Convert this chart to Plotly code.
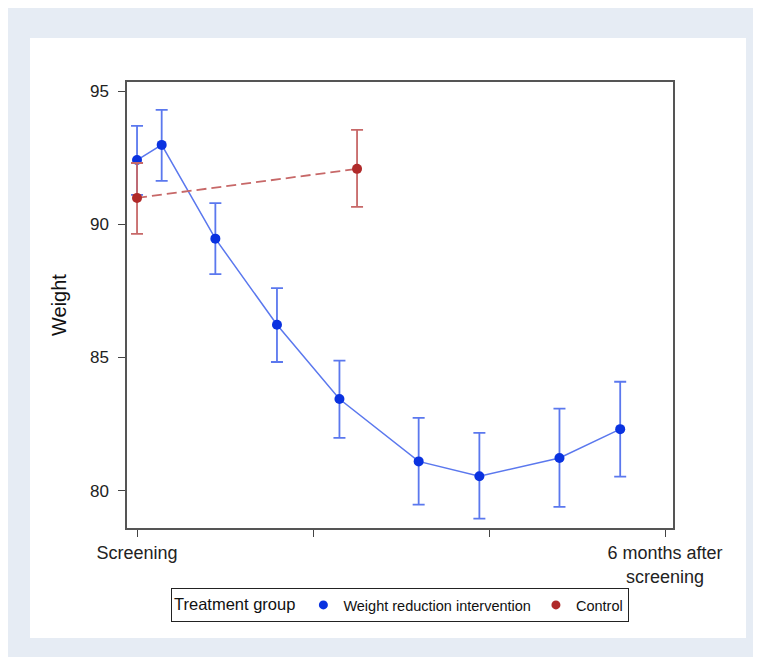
import plotly.graph_objects as go

# ---- data ----
int_x = [0.0, 0.28, 0.89, 1.59, 2.30, 3.20, 3.89, 4.80, 5.49]
int_mean = [92.41, 92.98, 89.46, 86.23, 83.44, 81.10, 80.54, 81.23, 82.31]
int_upper = [93.69, 94.29, 90.79, 87.60, 84.88, 82.73, 82.17, 83.08, 84.09]
int_lower = [91.10, 91.63, 88.13, 84.83, 81.98, 79.48, 78.95, 79.39, 80.53]

ctl_x = [0.0, 2.50]
ctl_mean = [90.99, 92.08]
ctl_upper = [92.30, 93.54]
ctl_lower = [89.64, 90.65]

x_tickvals = [0, 2, 4, 6]
x_ticktext = ["Screening", "", "", "6 months after<br>screening"]
y_tickvals = [80, 85, 90, 95]

series_names = ["Weight reduction intervention", "Control"]

BLUE_M = "#0a32e0"
BLUE_L = "#5b78ee"
RED_M = "#b02a2a"
RED_L = "#c76868"

fig = go.Figure()

fig.add_trace(go.Scatter(
    x=int_x, y=int_mean, mode="lines+markers", showlegend=False,
    line=dict(color=BLUE_L, width=1.5),
    marker=dict(color=BLUE_M, size=10),
    error_y=dict(type="data", symmetric=False,
                 array=[u - m for u, m in zip(int_upper, int_mean)],
                 arrayminus=[m - l for m, l in zip(int_mean, int_lower)],
                 color=BLUE_L, thickness=1.8, width=6),
))
fig.add_trace(go.Scatter(
    x=ctl_x, y=ctl_mean, mode="lines+markers", showlegend=False,
    line=dict(color=RED_L, width=1.8, dash="10px,5px"),
    marker=dict(color=RED_M, size=10),
    error_y=dict(type="data", symmetric=False,
                 array=[u - m for u, m in zip(ctl_upper, ctl_mean)],
                 arrayminus=[m - l for m, l in zip(ctl_mean, ctl_lower)],
                 color=RED_L, thickness=1.8, width=6),
))
# legend entries (marker only)
fig.add_trace(go.Scatter(x=[None], y=[None], mode="markers", name=series_names[0],
                         marker=dict(color=BLUE_M, size=9)))
fig.add_trace(go.Scatter(x=[None], y=[None], mode="markers", name=series_names[1],
                         marker=dict(color=RED_M, size=9)))

# figure is drawn at page offset (8, 8) by the default body margin
OFF = 8
W, H = 761 - OFF, 657 - OFF
L = 127 - OFF
T = 82 - OFF
R = W - (673 - OFF)
B = H - (528 - OFF)
pw, ph = W - L - R, H - T - B

def px(xp):
    return (xp - OFF - L) / pw

def py(yp):
    return (H - B - (yp - OFF)) / ph

shapes = [
    # inner white panel
    dict(type="rect", xref="paper", yref="paper", x0=px(30), x1=px(746), y0=py(638), y1=py(38),
         fillcolor="white", line=dict(width=0), layer="below"),
]

fig.update_layout(
    width=W, height=H,
    margin=dict(l=L, r=R, t=T, b=B),
    paper_bgcolor="#e6ecf4",
    plot_bgcolor="white",
    font=dict(family="Liberation Sans, Arial, sans-serif", size=14, color="#222"),
    shapes=shapes,
    xaxis=dict(range=[-0.114, 6.09], tickvals=x_tickvals, ticktext=x_ticktext,
               ticks="outside", ticklen=7, tickwidth=1.2, tickcolor="#444",
               ticklabelstandoff=1,
               showline=True, linecolor="#555", linewidth=1.5, mirror=True,
               showgrid=False, zeroline=False, tickfont=dict(size=18, color="#222")),
    yaxis=dict(range=[78.6, 95.34], tickvals=y_tickvals,
               ticks="outside", ticklen=7, tickwidth=1.2, tickcolor="#444",
               ticklabelstandoff=6,
               showline=True, linecolor="#555", linewidth=1.5, mirror=True,
               showgrid=False, zeroline=False, tickfont=dict(size=17, color="#222"),
               title=dict(text="Weight", font=dict(size=20, color="#111"), standoff=18)),
    legend=dict(orientation="h", x=0.5, xanchor="center", y=py(588), yanchor="top",
                bordercolor="#222", borderwidth=1, bgcolor="white",
                title=dict(text="Treatment group", font=dict(size=16.5, color="#111")),
                font=dict(size=14.5, color="#111"), itemwidth=30, tracegroupgap=0),
)

fig.write_html("out.html")
